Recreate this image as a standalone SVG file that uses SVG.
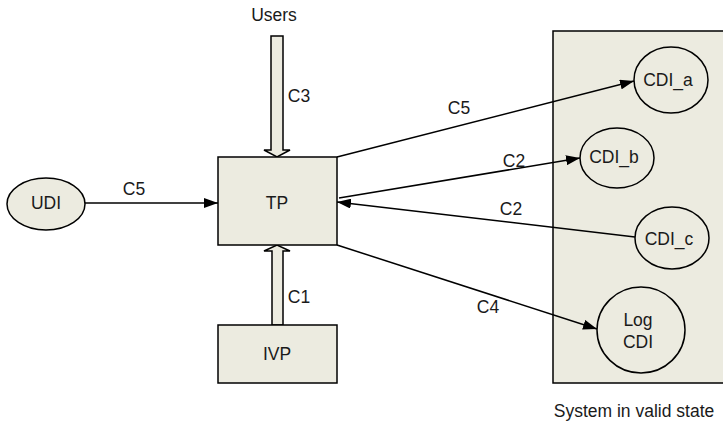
<svg xmlns="http://www.w3.org/2000/svg" width="723" height="436" viewBox="0 0 723 436">
<defs>
<marker id="ah" viewBox="0 0 14 10" refX="14" refY="5" markerWidth="14" markerHeight="10" markerUnits="userSpaceOnUse" orient="auto">
<path d="M0,0 L14,5 L0,10 Z" fill="#000"/>
</marker>
</defs>
<style>
.n{fill:#ecebe0;stroke:#000;stroke-width:1.5}
.c{stroke:#000;stroke-width:1.5;fill:none;marker-end:url(#ah)}
.h{fill:#ecebe0;stroke:#000;stroke-width:1.5;stroke-linejoin:miter}
text{font-family:"Liberation Sans",Arial,sans-serif;font-size:17.5px;fill:#1a1a1a;text-anchor:middle}
</style>
<rect width="723" height="436" fill="#fff"/>
<g id="system">
<rect class="n" x="553" y="31" width="175" height="352"/>
<text x="634" y="417">System in valid state</text>
</g>
<g id="connectors">
<line class="c" x1="85" y1="203" x2="218" y2="203"/>
<text x="134" y="195">C5</text>
<polygon class="h" points="271,36 283,36 283,150 290,150 277,157 264,150 271,150"/>
<text x="299" y="102">C3</text>
<polygon class="h" points="272,325 283,325 283,251 290,251 277,245 264,251 272,251"/>
<text x="299" y="303">C1</text>
<line class="c" x1="337" y1="157" x2="634" y2="81"/>
<text x="459" y="114">C5</text>
<line class="c" x1="339" y1="198" x2="580" y2="158"/>
<text x="514" y="167">C2</text>
<line class="c" x1="635" y1="237" x2="337" y2="202"/>
<text x="511" y="215">C2</text>
<line class="c" x1="337" y1="245" x2="597" y2="329"/>
<text x="488" y="313">C4</text>
</g>
<g id="UDI">
<ellipse class="n" cx="46" cy="204" rx="39" ry="26"/>
<text x="46" y="209">UDI</text>
</g>
<g id="Users">
<text x="274" y="21">Users</text>
</g>
<g id="TP">
<rect class="n" x="218" y="157" width="119" height="88"/>
<text x="277" y="209">TP</text>
</g>
<g id="IVP">
<rect class="n" x="218" y="325" width="119" height="58"/>
<text x="277" y="360">IVP</text>
</g>
<g id="CDI_a">
<ellipse class="n" cx="671" cy="80" rx="37" ry="33"/>
<text x="668" y="86">CDI_a</text>
</g>
<g id="CDI_b">
<ellipse class="n" cx="617" cy="158" rx="37" ry="30"/>
<text x="614" y="163">CDI_b</text>
</g>
<g id="CDI_c">
<ellipse class="n" cx="672" cy="238" rx="37" ry="31"/>
<text x="669" y="245">CDI_c</text>
</g>
<g id="LogCDI">
<ellipse class="n" cx="641" cy="330" rx="44" ry="43"/>
<text x="638" y="326">Log</text>
<text x="638" y="348">CDI</text>
</g>
</svg>
